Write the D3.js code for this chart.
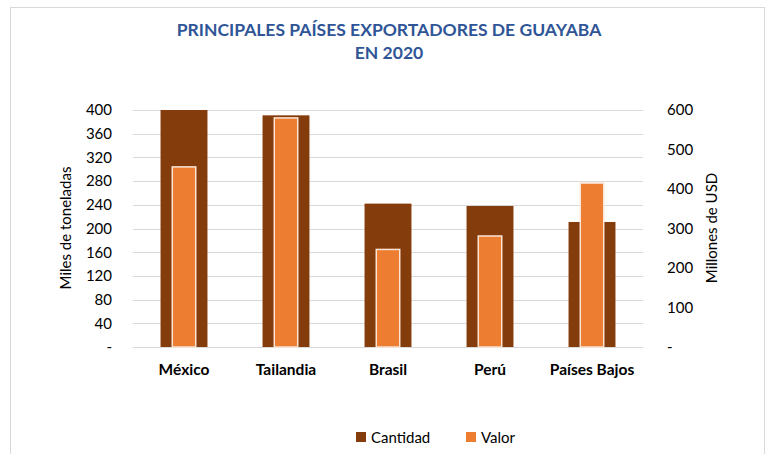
<!DOCTYPE html>
<meta charset="utf-8">
<style>
body { margin: 0; background: #fff; }
text { font-family: Lato, "Open Sans", sans-serif; fill: #000; }
.grid line { stroke: #d9d9d9; stroke-width: 1; }
.axis text { font-size: 15px; }
</style>
<svg width="772" height="454"></svg>
<script src="https://d3js.org/d3.v7.min.js"></script>
<script>

var paises = ["México", "Tailandia", "Brasil", "Perú", "Países Bajos"];
var cantidad = [400, 391, 242, 238, 211];   // miles de toneladas
var valor = [456, 580, 247, 281, 415];      // millones de USD
var ticksIzq = [0, 40, 80, 120, 160, 200, 240, 280, 320, 360, 400];
var ticksDer = [0, 100, 200, 300, 400, 500, 600];

var svg = d3.select("svg");

var x = d3.scaleBand().domain(paises).range([133, 643]).paddingInner(0.54).paddingOuter(0.27);
var yL = d3.scaleLinear().domain([0, 400]).range([347, 110]);
var yR = d3.scaleLinear().domain([0, 600]).range([347, 110]);

// marco
svg.append("rect")
    .attr("x", 10.5).attr("y", 7.5).attr("width", 754).attr("height", 460)
    .attr("fill", "none").attr("stroke", "#d9d9d9");

// título
var title = svg.append("text")
    .attr("text-anchor", "middle")
    .style("font-weight", "bold")
    .style("font-size", "17.5px")
    .style("fill", "#2f5597");
title.append("tspan").attr("x", 389).attr("y", 36).text("PRINCIPALES PAÍSES EXPORTADORES DE GUAYABA");
title.append("tspan").attr("x", 389).attr("y", 59).text("EN 2020");

// rejilla
svg.append("g").attr("class", "grid")
  .selectAll("line").data(ticksIzq).enter().append("line")
    .attr("x1", 133).attr("x2", 643)
    .attr("y1", function(d) { return Math.round(yL(d)) + 0.5; })
    .attr("y2", function(d) { return Math.round(yL(d)) + 0.5; });

function fmt(d) { return d === 0 ? "-" : d; }

svg.append("g").attr("class", "axis")
    .attr("transform", "translate(133,0)")
    .call(d3.axisLeft(yL).tickValues(ticksIzq).tickFormat(fmt).tickSize(0).tickPadding(21))
    .call(function(g) { g.select(".domain").remove(); })
    .selectAll("text").style("font-family", "Lato, sans-serif");

svg.append("g").attr("class", "axis")
    .attr("transform", "translate(643,0)")
    .call(d3.axisRight(yR).tickValues(ticksDer).tickFormat(fmt).tickSize(0).tickPadding(24))
    .call(function(g) { g.select(".domain").remove(); })
    .selectAll("text").style("font-family", "Lato, sans-serif");

svg.append("text")
    .attr("transform", "translate(71,228) rotate(-90)")
    .attr("text-anchor", "middle")
    .style("font-size", "15px")
    .text("Miles de toneladas");

svg.append("text")
    .attr("transform", "translate(717,228) rotate(-90)")
    .attr("text-anchor", "middle")
    .style("font-size", "15px")
    .text("Millones de USD");

// barras
svg.append("g").selectAll("rect").data(paises).enter().append("rect")
    .attr("x", function(d) { return x(d); })
    .attr("width", x.bandwidth())
    .attr("y", function(d, i) { return yL(cantidad[i]); })
    .attr("height", function(d, i) { return yL(0) - yL(cantidad[i]); })
    .attr("fill", "#843c0c");

var vw = x.bandwidth() * 0.5;
svg.append("g").selectAll("rect").data(paises).enter().append("rect")
    .attr("x", function(d) { return x(d) + (x.bandwidth() - vw) / 2; })
    .attr("width", vw)
    .attr("y", function(d, i) { return yR(valor[i]); })
    .attr("height", function(d, i) { return yR(0) - yR(valor[i]); })
    .attr("fill", "#ed7d31")
    .attr("stroke", "#fbe5d6")
    .attr("stroke-width", 1.5);

// categorías
svg.append("g").selectAll("text").data(paises).enter().append("text")
    .attr("x", function(d) { return x(d) + x.bandwidth() / 2; })
    .attr("y", 375)
    .attr("text-anchor", "middle")
    .style("font-weight", "bold")
    .style("font-size", "15.5px")
    .text(function(d) { return d; });

// leyenda
var legend = [["Cantidad", "#843c0c", 356], ["Valor", "#ed7d31", 466]];
var lg = svg.append("g").selectAll("g").data(legend).enter().append("g")
    .attr("transform", function(d) { return "translate(" + d[2] + ",432)"; });
lg.append("rect").attr("width", 10).attr("height", 10).attr("fill", function(d) { return d[1]; });
lg.append("text").attr("x", 15).attr("y", 10.5).style("font-size", "15px").text(function(d) { return d[0]; });

</script>
